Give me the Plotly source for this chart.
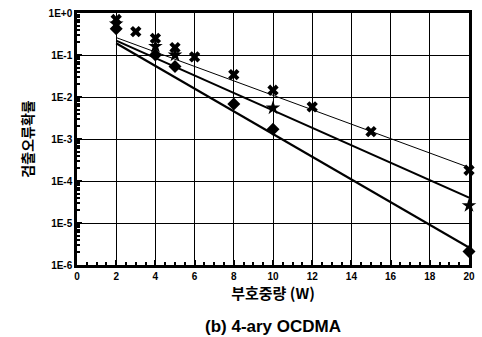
import plotly.graph_objects as go

# code weight (W) and detection error probability per marker series
x_cross = [2, 3, 4, 5, 6, 8, 10, 12, 15, 20]
y_cross = [0.70, 0.36, 0.25, 0.15, 0.09, 0.034, 0.0145, 0.0058, 0.0015, 1.8e-4]

x_star = [2, 4, 5, 10, 20]
y_star = [0.55, 0.16, 0.10, 0.0055, 2.6e-5]

x_diam = [2, 4, 5, 8, 10, 20]
y_diam = [0.42, 0.10, 0.053, 0.0068, 0.0017, 2.1e-6]

# fitted trend lines (values at W = 2 and W = 20)
fit_x = [2, 20]
fit_top = [0.26, 2.1e-4]
fit_mid = [0.22, 4.0e-5]
fit_low = [0.19, 2.6e-6]

x_ticks = list(range(0, 21, 2))
y_ticks = [1, 1e-1, 1e-2, 1e-3, 1e-4, 1e-5, 1e-6]
y_tick_text = ["1E+0", "1E-1", "1E-2", "1E-3", "1E-4", "1E-5", "1E-6"]

y_minor = [k * 10.0 ** (-n) for n in range(1, 7) for k in range(2, 10)]

font_main = "Liberation Sans, Arial, sans-serif"
font_kr = "Noto Sans CJK KR, sans-serif"

fig = go.Figure()

fig.add_trace(go.Scatter(x=fit_x, y=fit_top, mode="lines",
                         line=dict(color="black", width=1), showlegend=False))
fig.add_trace(go.Scatter(x=fit_x, y=fit_mid, mode="lines",
                         line=dict(color="black", width=2), showlegend=False))
fig.add_trace(go.Scatter(x=fit_x, y=fit_low, mode="lines",
                         line=dict(color="black", width=2.2), showlegend=False))

fig.add_trace(go.Scatter(x=x_cross, y=y_cross, mode="markers",
                         marker=dict(symbol="x", size=10, color="black"),
                         showlegend=False, cliponaxis=False))
fig.add_trace(go.Scatter(x=x_star, y=y_star, mode="markers",
                         marker=dict(symbol="star", size=11, color="black"),
                         showlegend=False, cliponaxis=False))
fig.add_trace(go.Scatter(x=x_diam, y=y_diam, mode="markers",
                         marker=dict(symbol="diamond", size=10, color="black"),
                         showlegend=False, cliponaxis=False))

fig.update_xaxes(
    range=[0, 20], tickvals=x_ticks, ticks="inside", ticklen=5,
    tickcolor="black", tickwidth=1.5,
    showgrid=True, gridcolor="black", gridwidth=1.3,
    showline=True, linecolor="black", linewidth=2.5, mirror=True,
    zeroline=False,
    minor=dict(tickvals=[v / 2 for v in range(0, 41)], ticks="inside",
               ticklen=3, tickcolor="black", showgrid=False),
    tickfont=dict(family=font_main, size=10, color="black", weight="bold"),
    title=dict(text="부호중량 (W)", standoff=5,
               font=dict(family=font_kr, size=15, color="black", weight="bold")),
)
fig.update_yaxes(
    type="log", range=[-6, 0], tickvals=y_ticks, ticktext=y_tick_text,
    ticks="inside", ticklen=5, tickcolor="black", tickwidth=1.5,
    showgrid=True, gridcolor="black", gridwidth=1.3,
    showline=True, linecolor="black", linewidth=2.5, mirror=True,
    zeroline=False,
    minor=dict(tickvals=y_minor, ticks="inside", ticklen=3,
               tickcolor="black", showgrid=False),
    tickfont=dict(family=font_main, size=10, color="black", weight="bold"),
    title=dict(text="검출오류확률", standoff=12,
               font=dict(family=font_kr, size=14, color="black", weight="bold")),
)

fig.add_annotation(text="(b) 4-ary OCDMA", xref="paper", yref="paper",
                   x=0.5, y=-0.2, yanchor="top", showarrow=False,
                   font=dict(family=font_main, size=17, color="black",
                             weight="bold"))

fig.update_layout(
    width=482, height=337,
    margin=dict(l=77, r=9, t=7, b=72),
    paper_bgcolor="white", plot_bgcolor="white",
)

fig.write_html("out.html")
